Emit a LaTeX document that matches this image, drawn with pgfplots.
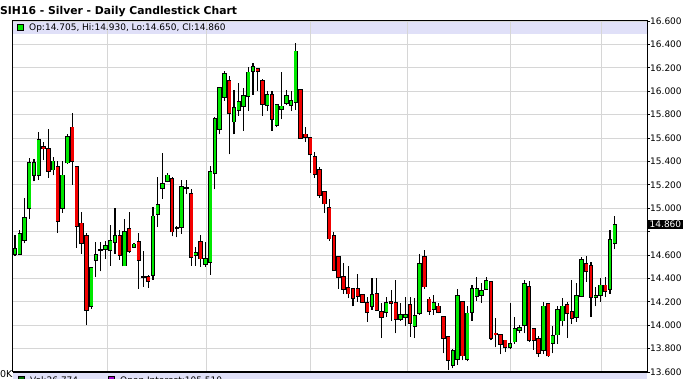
\documentclass[border=0pt]{standalone}
\usepackage{pgfplots}
\pgfplotsset{compat=1.18}
\usepackage{pgfplotstable}
\usepackage{fontspec}
\setmainfont{DejaVu Sans}
\definecolor{cgreen}{RGB}{0,232,0}
\definecolor{cred}{RGB}{242,0,0}
\definecolor{lav}{RGB}{224,224,248}
\definecolor{gridc}{RGB}{214,214,214}
\definecolor{volg}{RGB}{0,110,0}
\definecolor{oipurp}{RGB}{160,0,200}

\pgfplotstableread{
i o h l c
0 14.61 14.77 14.59 14.65
1 14.61 14.81 14.60 14.78
2 14.73 15.09 14.70 14.92
3 15.00 15.43 14.91 15.39
4 15.28 15.42 15.23 15.39
5 15.28 15.65 15.24 15.58
6 15.52 15.57 15.41 15.51
7 15.51 15.68 15.26 15.32
8 15.33 15.44 15.28 15.40
9 15.35 15.40 14.79 14.89
10 15.00 15.40 14.96 15.28
11 15.39 15.63 15.38 15.61
12 15.69 15.81 15.20 15.40
13 15.35 15.35 14.66 14.85
14 14.87 14.97 14.61 14.70
15 14.76 14.79 14.00 14.13
16 14.16 14.50 14.14 14.49
17 14.56 14.71 14.41 14.60
18 14.64 14.71 14.46 14.64
19 14.65 14.72 14.57 14.68
20 14.64 14.86 14.51 14.72
21 14.71 15.00 14.61 14.76
22 14.76 14.81 14.56 14.60
23 14.51 14.91 14.51 14.80
24 14.82 14.97 14.62 14.63
25 14.67 14.70 14.66 14.69
26 14.71 14.79 14.31 14.56
27 14.41 14.63 14.33 14.41
28 14.41 14.43 14.32 14.38
29 14.43 15.01 14.39 14.93
30 14.95 15.27 14.84 15.03
31 15.17 15.47 15.08 15.21
32 15.23 15.30 15.22 15.28
33 15.25 15.27 14.76 14.80
34 14.83 14.85 14.75 14.83
35 14.84 15.24 14.78 15.18
36 15.17 15.24 15.12 15.17
37 15.12 15.16 14.51 14.585
38 14.60 14.67 14.51 14.62
39 14.71 14.77 14.50 14.57
40 14.52 14.71 14.50 14.57
41 14.54 15.36 14.43 15.31
42 15.30 15.78 15.16 15.76
43 15.68 16.04 15.63 16.03
44 15.95 16.17 15.92 16.15
45 16.09 16.13 15.46 15.81
46 15.74 16.01 15.63 15.86
47 15.84 16.07 15.79 15.91
48 15.87 16.03 15.66 15.96
49 15.96 16.21 15.83 16.16
50 16.17 16.24 15.97 16.21
51 16.19 16.19 16.00 16.17
52 16.09 16.10 15.79 15.89
53 15.88 16.00 15.83 15.97
54 15.97 16.00 15.66 15.76
55 15.71 15.89 15.69 15.88
56 15.85 16.16 15.76 15.87
57 15.90 16.01 15.88 15.96
58 15.88 16.00 15.83 15.92
59 15.91 16.41 15.84 16.34
60 16.01 16.01 15.59 15.60
61 15.63 15.69 15.57 15.61
62 15.60 15.60 15.30 15.46
63 15.44 15.48 15.26 15.29
64 15.33 15.35 15.09 15.11
65 15.14 15.14 14.96 15.04
66 15.00 15.08 14.72 14.74
67 14.76 14.80 14.47 14.47
68 14.58 14.58 14.31 14.41
69 14.41 14.53 14.27 14.31
70 14.32 14.51 14.23 14.27
71 14.31 14.31 14.16 14.23
72 14.31 14.44 14.20 14.25
73 14.26 14.26 14.19 14.20
74 14.19 14.24 14.03 14.11
75 14.16 14.40 14.13 14.26
76 14.27 14.40 14.12 14.13
77 14.11 14.19 13.89 14.07
78 14.11 14.24 14.07 14.19
79 14.20 14.30 14.04 14.19
80 14.19 14.39 13.93 14.05
81 14.05 14.19 14.04 14.09
82 14.07 14.24 13.99 14.09
83 14.17 14.24 13.90 14.02
84 13.99 14.23 13.89 14.08
85 14.10 14.61 14.09 14.52
86 14.58 14.64 14.31 14.33
87 14.22 14.24 14.09 14.12
88 14.14 14.26 14.09 14.19
89 14.16 14.19 14.10 14.11
90 14.07 14.07 13.76 13.89
91 13.90 13.90 13.62 13.70
92 13.66 13.80 13.63 13.78
93 13.71 14.31 13.66 14.25
94 14.20 14.20 13.70 13.74
95 13.71 14.16 13.69 14.10
96 14.11 14.34 14.04 14.31
97 14.25 14.41 14.21 14.31
98 14.26 14.36 14.19 14.29
99 14.31 14.41 14.30 14.38
100 14.37 14.37 13.87 13.89
101 13.93 14.06 13.81 13.92
102 13.92 13.92 13.75 13.84
103 13.87 13.87 13.77 13.81
104 13.81 14.19 13.80 13.84
105 13.86 14.07 13.84 13.97
106 13.96 14.00 13.93 13.98
107 14.00 14.39 13.93 14.35
108 14.33 14.38 13.86 13.87
109 13.97 13.97 13.79 13.87
110 13.88 13.91 13.73 13.76
111 13.79 14.20 13.75 14.16
112 14.18 14.19 13.73 13.74
113 13.85 13.99 13.76 13.91
114 13.92 14.16 13.84 14.13
115 14.04 14.23 13.99 14.16
116 14.17 14.20 13.89 14.10
117 14.11 14.39 14.01 14.06
118 14.07 14.36 14.03 14.25
119 14.25 14.58 14.24 14.56
120 14.52 14.59 14.37 14.46
121 14.51 14.54 14.07 14.24
122 14.24 14.33 14.16 14.25
123 14.26 14.40 14.20 14.34
124 14.34 14.41 14.24 14.29
125 14.31 14.81 14.27 14.73
126 14.705 14.93 14.65 14.86
}\data

\begin{document}
\begin{tikzpicture}[x=1pt,y=1pt]
\useasboundingbox (0,0) rectangle (686,379);
\fill[white] (0,0) rectangle (686,379);
\begin{scope}
\clip (0,0) rectangle (686,379);
% legend band and bottom strip
\fill[lav] (13,345) rectangle (647,358);
\fill[lav] (13,-10) rectangle (647,7);
\filldraw[fill=volg, draw=black, line width=0.5pt] (18,-3) rectangle (24,3);
\node[anchor=base west, inner sep=0, font=\fontsize{9}{10}\selectfont] at (30,-5) {Vol:26,774};
\filldraw[fill=oipurp, draw=black, line width=0.5pt] (108,-3) rectangle (114,3);
\node[anchor=base west, inner sep=0, font=\fontsize{9}{10}\selectfont] at (120,-5) {Open Interest:105,510};
\node[anchor=base west, inner sep=0, font=\fontsize{9.5}{10}\selectfont] at (0,1) {0K};
\end{scope}
% title
\node[anchor=base west, inner sep=0, font=\bfseries\fontsize{10.8}{12}\selectfont] at (0,364) {SIH16 - Silver - Daily Candlestick Chart};
\begin{axis}[
  at={(13pt,7pt)}, anchor=south west,
  scale only axis, width=634pt, height=351pt,
  xmin=-0.42, xmax=132.77, ymin=13.6, ymax=16.6,
  xtick={19.33,40.13,61.97,82.35,104.0,123.1},
  xticklabels={}, xmajorticks=false,
  ytick={13.6,13.8,14.0,14.2,14.4,14.6,15.0,15.2,15.4,15.6,15.8,16.0,16.2,16.4,16.6},
  minor ytick={14.8},
  ytick pos=right, yticklabel pos=right,
  tick align=outside, major tick length=3pt, minor tick length=3pt,
  tick style={black, line width=0.6pt},
  /pgf/number format/assume math mode=true,
  yticklabel={\pgfmathprintnumber[fixed,fixed zerofill,precision=3]{\tick}},
  yticklabel style={font=\fontsize{9}{10}\selectfont, anchor=west, inner sep=1pt, xshift=-1pt},
  extra y ticks={14.86},
  extra y tick style={grid=none, major tick length=0pt,
     yticklabel style={fill=black, text=white, inner sep=1.5pt, xshift=2pt}},
  xmajorgrids=true, ymajorgrids=true, yminorgrids=true,
  major grid style={gridc, line width=0.9pt},
  minor grid style={gridc, line width=0.9pt},
  axis line style={black, line width=1pt},
  clip=true,
]
% wicks
\addplot[draw=none, no markers, forget plot,
  error bars/.cd, y dir=plus, y explicit, error mark=none,
  error bar style={draw=black, line width=1.1pt}]
  table[x=i, y=l, y error plus expr={\thisrow{h}-\thisrow{l}}] {\data};
% body outlines
\addplot[draw=none, no markers, forget plot,
  error bars/.cd, y dir=plus, y explicit, error mark=none,
  error bar style={draw=black, line width=4.4pt}]
  table[x=i, y expr={min(\thisrow{o},\thisrow{c})-0.0075},
        y error plus expr={abs(\thisrow{c}-\thisrow{o})+0.015}] {\data};
% green bodies
\addplot[draw=none, no markers, forget plot,
  restrict expr to domain={\thisrow{c}-\thisrow{o}}{0.0001:100},
  error bars/.cd, y dir=plus, y explicit, error mark=none,
  error bar style={draw=cgreen, line width=2.8pt}]
  table[x=i, y=o, y error plus expr={\thisrow{c}-\thisrow{o}}] {\data};
% red bodies
\addplot[draw=none, no markers, forget plot,
  restrict expr to domain={\thisrow{o}-\thisrow{c}}{0.0001:100},
  error bars/.cd, y dir=plus, y explicit, error mark=none,
  error bar style={draw=cred, line width=2.8pt}]
  table[x=i, y=c, y error plus expr={\thisrow{o}-\thisrow{c}}] {\data};
\end{axis}
\draw[black, line width=2pt] (13,7) -- (647,7);
% legend marker and text
\filldraw[fill=cgreen, draw=black, line width=0.5pt] (17,349) rectangle (23,355);
\node[anchor=base west, inner sep=0, font=\fontsize{9}{10}\selectfont] at (29,348) {Op:14.705, Hi:14.930, Lo:14.650, Cl:14.860};
\end{tikzpicture}
\end{document}
